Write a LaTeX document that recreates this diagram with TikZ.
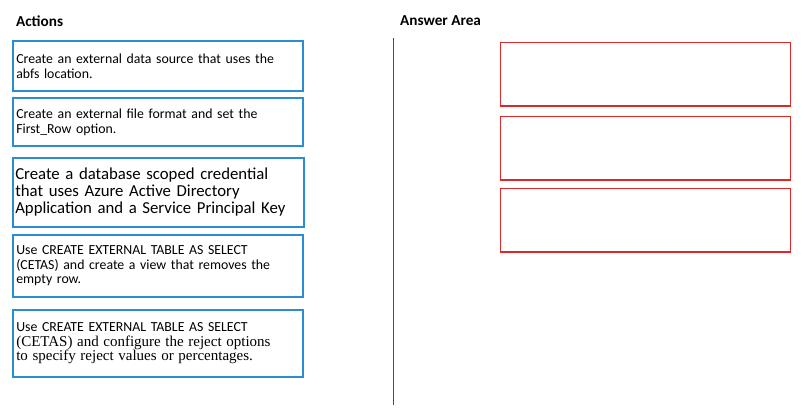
\documentclass[tikz,border=0pt]{standalone}
\usepackage{fontspec}
\setmainfont{Carlito}
\newfontfamily\timesfont{Liberation Serif}
\definecolor{boxblue}{RGB}{41,141,209}
\definecolor{boxred}{RGB}{220,40,40}
\begin{document}
\begin{tikzpicture}[x=0.03cm,y=-0.03cm,
  actionbox/.style={draw=boxblue,line width=1.6pt,anchor=north west,align=left,
    minimum width=8.7cm,text width=8.5cm,inner sep=2pt,font=\fontsize{11.8}{12.5}\selectfont},
  answerbox/.style={draw=boxred,line width=1.2pt,anchor=north west,
    minimum width=8.7cm,minimum height=1.9cm},
  heading/.style={anchor=west,font=\bfseries\fontsize{13}{15}\selectfont}]

    %Rahmen
    \useasboundingbox [fill=white] (0,0) rectangle (808,416);

    %Ueberschriften
    \node [heading] (actions) at (12,21) {Actions};
    \node [heading] (answer) at (396,21) {Answer Area};

    %Trennlinie
    \coordinate (top) at (393,38);
    \coordinate (bottom) at (393,405);
    \draw [gray!60!black,line width=0.8pt] (top) -- (bottom);

    %Aktionen
    \node [actionbox,minimum height=1.5cm] (source) at (12,40)
      {Create an external data source that uses the\\abfs location.};
    \node [actionbox,minimum height=1.45cm] (format) at (12,97)
      {Create an external file format and set the\\First\_Row option.};
    \node [actionbox,minimum height=2.07cm,text width=8.6cm,font=\fontsize{14.3}{14.5}\selectfont] (credential) at (12,157)
      {Create a database scoped credential\\that uses Azure Active Directory\\Application and a Service Principal Key};
    \node [actionbox,minimum height=1.86cm] (view) at (12,234)
      {Use CREATE EXTERNAL TABLE AS SELECT\\(CETAS) and create a view that removes the\\empty row.};
    \node [actionbox,minimum height=2.0cm] (reject) at (12,309)
      {Use CREATE EXTERNAL TABLE AS SELECT\\{\timesfont\fontsize{12.8}{13}\selectfont(CETAS) and configure the reject options}\\{\timesfont\fontsize{12.8}{13}\selectfont to specify reject values or percentages.}};

    %Antworten
    \node [answerbox] (slot1) at (500,42) {};
    \node [answerbox] (slot2) at (500,116) {};
    \node [answerbox] (slot3) at (500,188) {};

\end{tikzpicture}
\end{document}
